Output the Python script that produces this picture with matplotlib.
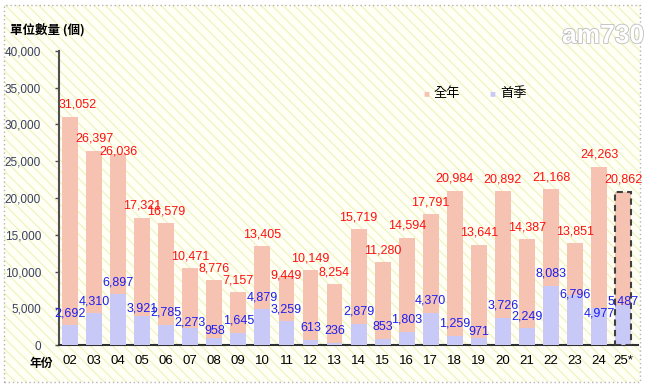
#!/usr/bin/python3
#
# Bar chart: full-year vs first-quarter unit counts, 2002-2025

import matplotlib
matplotlib.use("Agg")
import matplotlib.pyplot as plt
import matplotlib.patheffects as pe
from matplotlib.patches import Rectangle
from matplotlib.ticker import FuncFormatter, MultipleLocator

##################################################
#
# data
#
##################################################

years = ["02", "03", "04", "05", "06", "07", "08", "09", "10", "11", "12", "13",
         "14", "15", "16", "17", "18", "19", "20", "21", "22", "23", "24", "25*"]
full_year = [31052, 26397, 26036, 17321, 16579, 10471, 8776, 7157, 13405, 9449,
             10149, 8254, 15719, 11280, 14594, 17791, 20984, 13641, 20892, 14387,
             21168, 13851, 24263, 20862]
first_quarter = [2692, 4310, 6897, 3921, 2785, 2273, 958, 1645, 4879, 3259,
                 613, 236, 2879, 853, 1803, 4370, 1259, 971, 3726, 2249,
                 8083, 6796, 4977, 5487]

# label nudges in pixels (vertical offset above bar top)
full_dy = [12] * len(years)
full_dy[2] = 2
full_dy[9] = 0
full_dx = [0] * len(years)
full_dx[0] = 8
q1_dy = [12] * len(years)
q1_dy[3] = 8
q1_dy[5] = 6
q1_dy[6] = 7
q1_dy[17] = 6
q1_dy[21] = 1
q1_dy[22] = -5
q1_dy[23] = 3

##################################################
#
# plot
#
##################################################

cjk = ["Noto Sans CJK TC", "DejaVu Sans"]
num = ["Liberation Sans", "DejaVu Sans"]
plt.rcParams["font.family"] = num
plt.rcParams["hatch.linewidth"] = 0.9

px = 0.72  # points per pixel at dpi 100

fig = plt.figure(figsize=(6.49, 3.89), dpi=100)
fig.patch.set_facecolor("white")

# hatched cream background and dotted frame
W, H = 649.0, 389.0
bg = Rectangle((4 / W, 1 - 382 / H), 636 / W, 377 / H, transform=fig.transFigure,
               facecolor="#FFFFF6", edgecolor="#EEF4C0", hatch="\\\\\\",
               linewidth=0, zorder=-2)
fig.add_artist(bg)
frame = Rectangle((4 / W, 1 - 382 / H), 636 / W, 377 / H, transform=fig.transFigure,
                  fill=False, edgecolor="#B4B4B4", linestyle=(0, (1, 2)),
                  linewidth=1, zorder=-1)
fig.add_artist(frame)

ax = fig.add_axes([59 / W, 1 - 345 / H, 579 / W, 294 / H])
ax.set_facecolor("none")

x = list(range(len(years)))
bw = 0.66
ax.bar(x, full_year, width=bw, color="#F6C3B3", linewidth=0, zorder=2)
ax.bar(x, first_quarter, width=bw, color="#C9C9F7", linewidth=0, zorder=3)
# dashed outline for the provisional year
ax.bar(x[-1], full_year[-1], width=bw, fill=False, edgecolor="#404040",
       linestyle=(0, (3, 2)), linewidth=1.5, zorder=4)

for i in x:
    ax.annotate(f"{full_year[i]:,}", (i, full_year[i]),
                xytext=(full_dx[i] * px, full_dy[i] * px), textcoords="offset points",
                ha="center", va="center", color="#FF1010", fontsize=9,
                zorder=5)
    ax.annotate(f"{first_quarter[i]:,}", (i, first_quarter[i]),
                xytext=(0, q1_dy[i] * px), textcoords="offset points",
                ha="center", va="center", color="#1E1EF0", fontsize=9,
                zorder=5)

ax.set_xlim(-0.46, 23.62)
ax.set_ylim(0, 40000)
ax.yaxis.set_major_locator(MultipleLocator(5000))
ax.yaxis.set_major_formatter(FuncFormatter(lambda v, p: f"{int(v):,}"))
ax.set_xticks(x)
ax.set_xticklabels(years)

for s in ["top", "right"]:
    ax.spines[s].set_visible(False)
ax.spines["left"].set_color("#505050")
ax.spines["left"].set_linewidth(1.5)
ax.spines["bottom"].set_color("#303030")
ax.spines["bottom"].set_linewidth(1.5)

ax.tick_params(axis="y", direction="out", length=3, width=1, color="#505050",
               labelsize=8.5, labelcolor="#3A4060", pad=10)
ax.tick_params(axis="x", length=0, labelsize=9.5, labelcolor="black", pad=7)

# axis titles
fig.text(10 / W, 1 - 30 / H, "單位數量 (個)", family=cjk, fontsize=9,
         fontweight="bold", ha="left", va="center")
fig.text(41 / W, 1 - 363 / H, "年份", family=cjk, fontsize=8.5,
         fontweight="bold", ha="center", va="center")

# legend
fig.text(426 / W, 1 - 93 / H, "■", color="#F6C3B3", fontsize=7, ha="center",
         va="center", family=num)
fig.text(434 / W, 1 - 93 / H, "全年", family=cjk, fontsize=9.5, ha="left", va="center")
fig.text(492 / W, 1 - 93 / H, "■", color="#C9C9F7", fontsize=7, ha="center",
         va="center", family=num)
fig.text(500 / W, 1 - 93 / H, "首季", family=cjk, fontsize=9.5, ha="left", va="center")

# watermark
fig.text(603 / W, 1 - 36 / H, "am730", fontsize=19, fontweight="bold",
         color="white", ha="center", va="center", family=num,
         path_effects=[pe.withStroke(linewidth=1.2, foreground="#BDBDBD")])

fig.savefig("out.png", dpi=100)
